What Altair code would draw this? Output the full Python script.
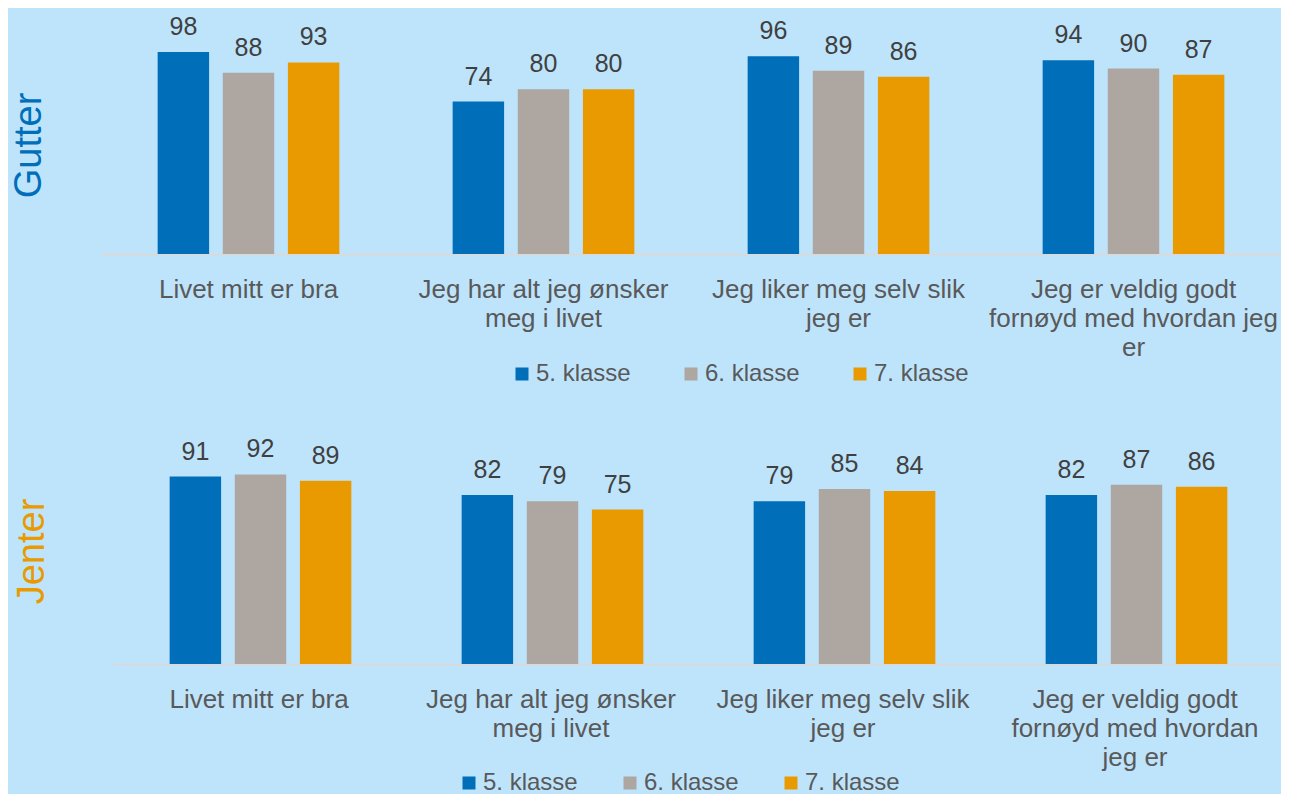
import altair as alt
import pandas as pd

classes = ["5. klasse", "6. klasse", "7. klasse"]
colors = ["#006EB8", "#ADA6A1", "#E89A00"]

labels_gutter = [
    "Livet mitt er bra",
    "Jeg har alt jeg ønsker|meg i livet",
    "Jeg liker meg selv slik|jeg er",
    "Jeg er veldig godt|fornøyd med hvordan jeg|er",
]
labels_jenter = [
    "Livet mitt er bra",
    "Jeg har alt jeg ønsker|meg i livet",
    "Jeg liker meg selv slik|jeg er",
    "Jeg er veldig godt|fornøyd med hvordan|jeg er",
]
gutter_5 = [98, 74, 96, 94]
gutter_6 = [88, 80, 89, 90]
gutter_7 = [93, 80, 86, 87]
jenter_5 = [91, 82, 79, 82]
jenter_6 = [92, 79, 85, 87]
jenter_7 = [89, 75, 84, 86]

BG = "#BEE4FC"
FONT = "Liberation Sans"


def make_df(labels, s5, s6, s7):
    rows = []
    for i, lab in enumerate(labels):
        for cls, vals in zip(classes, [s5, s6, s7]):
            rows.append({"cat": lab, "klasse": cls, "value": vals[i]})
    return pd.DataFrame(rows)


def panel(df, labels, title, title_color, x_range, legend_x, legend_y, col_pad,
          title_pad, title_y):
    x = alt.X(
        "cat:N",
        sort=labels,
        title=None,
        scale=alt.Scale(paddingInner=0, paddingOuter=0, range=x_range),
        axis=alt.Axis(
            labelExpr="split(datum.label, '|')",
            labelAngle=0,
            labelFontSize=26,
            labelColor="#595959",
            labelFont=FONT,
            labelLineHeight=29,
            labelPadding=22,
            labelBaseline="top",
            labelLimit=400,
            ticks=False,
            domainColor="#D9D9D9",
            domainWidth=2,
            grid=False,
        ),
    )
    xo = alt.XOffset(
        "klasse:N",
        sort=classes,
        scale=alt.Scale(paddingInner=0.21, paddingOuter=0.87),
    )
    y = alt.Y(
        "value:Q",
        scale=alt.Scale(domain=[0, 100], nice=False),
        title=title,
        axis=alt.Axis(
            labels=False,
            ticks=False,
            domain=False,
            grid=False,
            titleFontSize=38,
            titleFont=FONT,
            titleFontWeight="normal",
            titleColor=title_color,
            titlePadding=title_pad,
            titleY=title_y,
        ),
    )
    color = alt.Color(
        "klasse:N",
        sort=classes,
        scale=alt.Scale(domain=classes, range=colors),
        legend=alt.Legend(
            title=None,
            orient="none",
            direction="horizontal",
            legendX=legend_x,
            legendY=legend_y,
            symbolType="square",
            symbolSize=169,
            symbolStrokeWidth=0,
            symbolOpacity=1,
            labelFontSize=24,
            labelFont=FONT,
            labelColor="#595959",
            labelOffset=2,
            columnPadding=col_pad,
        ),
    )
    base = alt.Chart(df).encode(x=x, xOffset=xo, y=y)
    bars = base.mark_bar().encode(color=color)
    text = base.mark_text(
        baseline="alphabetic", dy=-17, fontSize=25, font=FONT, color="#404040"
    ).encode(text="value:Q")
    return alt.layer(bars, text).properties(width=1180, height=206)


top = panel(make_df(labels_gutter, gutter_5, gutter_6, gutter_7), labels_gutter,
            "Gutter", "#006EB8", [0, 1180], 409, 314, 48, 53, 97)
bottom = panel(make_df(labels_jenter, jenter_5, jenter_6, jenter_7), labels_jenter,
               "Jenter", "#E89A00", [12, 1180], 356, 313, 40, 50, 93)

chart = (
    alt.vconcat(top, bottom, spacing=51)
    .resolve_scale(x="independent", color="independent")
    .resolve_legend(color="independent")
    .configure(background=BG, padding={"left": 2, "top": 7, "right": 0, "bottom": 0})
    .configure_view(stroke=None)
)

chart.save("out.html", embed_options={"renderer": "svg", "actions": False})
